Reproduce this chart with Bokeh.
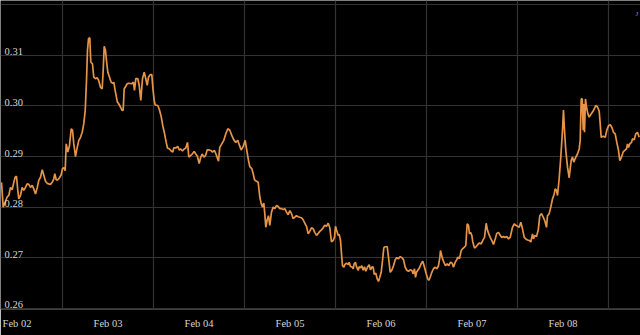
from bokeh.plotting import figure
from bokeh.models import FixedTicker, Grid, Label, Range1d
from bokeh.embed import file_html
from bokeh.resources import INLINE

# hours since Feb 02 00:00
hours = [
    7.91, 8.36, 8.89, 9.42, 9.84, 10.29, 10.73, 11.16, 11.52, 11.87, 12.21, 12.47, 12.92, 13.37, 13.79,
    14.24, 14.69, 15.11, 15.56, 16.01, 16.43, 16.88, 17.33, 17.75, 18.2, 18.65, 19.07, 19.52, 19.96,
    20.39, 20.84, 21.28, 21.71, 21.97, 22.34, 22.76, 23.21, 23.66, 24.0, 24.34, 24.71, 24.98, 25.4,
    25.85, 26.3, 26.64, 26.98, 27.43, 27.88, 28.3, 28.75, 29.2, 29.62, 29.99, 30.33, 30.59, 30.86,
    31.2, 31.46, 31.91, 32.25, 32.7, 33.15, 33.57, 34.02, 34.47, 34.73, 35.0, 35.34, 35.6, 35.95,
    36.4, 36.84, 37.27, 37.53, 37.98, 38.43, 38.85, 39.3, 39.75, 40.01, 40.27, 40.69, 41.06, 41.41,
    42.28, 42.72, 42.99, 43.33, 43.86, 44.23, 44.65, 45.1, 45.55, 45.97, 46.34, 46.68, 47.13, 47.55,
    47.82, 48.18, 48.45, 49.13, 49.58, 50.03, 50.45, 50.9, 51.35, 51.69, 52.22, 52.67, 53.09, 53.35,
    53.88, 54.41, 54.78, 55.2, 55.65, 56.1, 56.52, 56.97, 57.31, 57.76, 58.2, 58.73, 59.16, 59.6,
    60.05, 60.47, 60.84, 61.27, 61.72, 62.16, 62.69, 63.11, 63.56, 64.09, 64.62, 65.14, 65.48, 66.01,
    66.54, 67.07, 67.6, 68.12, 68.65, 69.18, 69.7, 70.23, 70.68, 71.13, 71.66, 72.18, 72.61, 73.06,
    73.4, 73.93, 74.3, 74.64, 75.17,
    75.61, 76.04, 76.4, 76.75, 77.09, 77.35, 77.62, 77.99, 78.33, 78.67, 79.12, 79.57, 79.99, 80.44,
    80.89, 81.31, 81.76, 82.2, 82.63, 83.08, 83.52, 83.95, 84.4, 84.84, 85.27, 85.71, 86.16, 86.58,
    87.03, 87.48, 87.9, 88.35, 88.8, 89.22, 89.67, 90.12, 90.54, 90.99, 91.44, 91.86, 92.31, 92.76,
    93.18, 93.63, 94.07, 94.5, 94.94, 95.39, 95.74, 96.0, 96.26, 96.71, 96.97, 97.32, 97.58, 97.85,
    98.19, 98.45, 98.9, 99.35, 99.61, 99.96, 100.3, 100.67, 100.93, 101.27, 101.54, 101.99, 102.25,
    102.59, 102.94, 103.3, 103.65, 103.99, 104.44, 104.89, 105.23, 105.68, 105.94, 106.21, 106.63,
    107.0, 107.34, 107.68, 108.05, 108.4, 108.74,
    108.92, 109.63, 109.98, 110.43, 110.85, 111.3, 111.74, 112.17, 112.61, 113.06, 113.49, 113.94,
    114.38, 114.81, 115.25, 115.7, 116.12, 116.49, 116.83, 117.1, 117.36, 117.71, 118.15, 118.6,
    119.02, 119.47, 119.92, 120.34, 120.6, 120.97, 121.4, 121.84, 122.29, 122.71, 123.16, 123.51,
    123.69, 124.14, 124.56, 125.01, 125.46, 125.88, 126.33, 126.78, 127.12, 127.57, 127.99, 128.25,
    128.7, 129.15, 129.57, 130.02, 130.37, 130.73, 131.08, 131.34, 131.61, 131.95, 132.21, 132.66,
    133.11, 133.53, 133.98, 134.43, 134.85, 135.3, 135.74, 136.09, 136.43, 136.8, 137.22, 137.67,
    138.12, 138.54, 138.99, 139.44, 139.86, 140.31, 140.75, 141.18, 141.63, 142.07,
    142.68, 143.13, 143.55, 144.0, 144.45, 144.87, 145.32, 145.77, 146.19, 146.64, 147.09, 147.51,
    147.96, 148.22, 148.57, 149.01, 149.46, 149.88, 150.33, 150.78, 151.2, 151.65, 151.91, 152.36,
    152.78, 153.23, 153.68, 153.94, 154.28, 154.55, 154.99, 155.42, 155.87, 156.13, 156.39, 156.74,
    157.19, 157.63, 157.9, 158.16, 158.5, 158.85, 159.38, 159.82, 160.27, 160.54, 160.8, 161.07,
    161.33, 161.49, 161.67, 161.93, 162.2, 162.54, 162.91, 163.33, 163.78, 164.23, 164.65, 165.1,
    165.54, 165.81, 166.07, 166.6, 167.13, 167.55, 168.0, 168.45, 168.87, 169.32, 169.76, 170.19,
    170.64, 170.98, 171.43, 171.87, 172.3, 172.75, 173.01, 173.27, 173.62, 174.07, 174.33, 174.78,
    175.2, 175.65, 176.09,
]

rate = [
    0.2849, 0.2800, 0.2810, 0.2820, 0.2823, 0.2839, 0.2834, 0.2849, 0.2859, 0.2861, 0.2833, 0.2816, 0.2823, 0.2839, 0.2833,
    0.2839, 0.2846, 0.2845, 0.2839, 0.2843, 0.2836, 0.2826, 0.2838, 0.2853, 0.2859, 0.2874, 0.2863, 0.2851, 0.2847,
    0.2846, 0.2845, 0.2849, 0.2856, 0.2866, 0.2854, 0.2854, 0.2858, 0.2864, 0.2876, 0.2878, 0.2872, 0.2925, 0.2909,
    0.2922, 0.2955, 0.2952, 0.2925, 0.2900, 0.2918, 0.2932, 0.2938, 0.2948, 0.2965, 0.2991, 0.3050, 0.3110, 0.3133,
    0.3135, 0.3087, 0.3083, 0.3057, 0.3054, 0.3056, 0.3050, 0.3037, 0.3034, 0.3070, 0.3118, 0.3110, 0.3090, 0.3067,
    0.3057, 0.3047, 0.3045, 0.3047, 0.3027, 0.3009, 0.3004, 0.2998, 0.2991, 0.2992, 0.3034, 0.3039, 0.3044, 0.3045,
    0.3044, 0.3047, 0.3031, 0.3054, 0.3054, 0.3041, 0.3011, 0.3054, 0.3067, 0.3054, 0.3041, 0.3057, 0.3062, 0.3062,
    0.3037, 0.3011, 0.3002, 0.3001, 0.2992, 0.2979, 0.2961, 0.2946, 0.2928, 0.2917, 0.2915, 0.2911, 0.2909, 0.2917,
    0.2917, 0.2920, 0.2913, 0.2915, 0.2911, 0.2915, 0.2917, 0.2928, 0.2899, 0.2902, 0.2905, 0.2910, 0.2905, 0.2900,
    0.2886, 0.2899, 0.2905, 0.2899, 0.2902, 0.2913, 0.2913, 0.2912, 0.2909, 0.2912, 0.2902, 0.2891, 0.2918, 0.2925,
    0.2932, 0.2945, 0.2955, 0.2952, 0.2942, 0.2933, 0.2928, 0.2932, 0.2922, 0.2913, 0.2920, 0.2932, 0.2912, 0.2892,
    0.2880, 0.2876, 0.2866, 0.2854, 0.2851,
    0.2849, 0.2820, 0.2807, 0.2800, 0.2808, 0.2787, 0.2760, 0.2775, 0.2783, 0.2764, 0.2790, 0.2800, 0.2797, 0.2803,
    0.2801, 0.2797, 0.2797, 0.2795, 0.2797, 0.2790, 0.2785, 0.2793, 0.2787, 0.2777, 0.2780, 0.2783, 0.2781, 0.2780,
    0.2779, 0.2775, 0.2768, 0.2762, 0.2747, 0.2752, 0.2759, 0.2757, 0.2750, 0.2744, 0.2748, 0.2752, 0.2755, 0.2759,
    0.2764, 0.2762, 0.2768, 0.2759, 0.2731, 0.2734, 0.2740, 0.2762, 0.2755, 0.2744, 0.2746, 0.2734, 0.2708, 0.2684,
    0.2681, 0.2686, 0.2689, 0.2686, 0.2691, 0.2682, 0.2682, 0.2678, 0.2688, 0.2691, 0.2682, 0.2675, 0.2682,
    0.2680, 0.2684, 0.2675, 0.2682, 0.2673, 0.2681, 0.2686, 0.2676, 0.2682, 0.2681, 0.2667, 0.2669,
    0.2658, 0.2653, 0.2661, 0.2671, 0.2694, 0.2719,
    0.2721, 0.2722, 0.2701, 0.2671, 0.2675, 0.2684, 0.2696, 0.2700, 0.2698, 0.2702, 0.2700, 0.2696,
    0.2681, 0.2675, 0.2673, 0.2676, 0.2675, 0.2668, 0.2678, 0.2661, 0.2671, 0.2675, 0.2680, 0.2688,
    0.2693, 0.2681, 0.2668, 0.2658, 0.2655, 0.2661, 0.2671, 0.2678, 0.2681, 0.2678, 0.2684, 0.2700,
    0.2714, 0.2700, 0.2691, 0.2684, 0.2688, 0.2684, 0.2691, 0.2689, 0.2681, 0.2691, 0.2696, 0.2701,
    0.2698, 0.2714, 0.2718, 0.2721, 0.2724, 0.2767, 0.2764, 0.2747, 0.2750, 0.2744, 0.2731, 0.2719,
    0.2722, 0.2726, 0.2729, 0.2727, 0.2734, 0.2740, 0.2768, 0.2754, 0.2747, 0.2740, 0.2734, 0.2726,
    0.2737, 0.2748, 0.2750, 0.2744, 0.2740, 0.2742, 0.2740, 0.2742, 0.2737, 0.2740,
    0.2760, 0.2767, 0.2764, 0.2762, 0.2760, 0.2770, 0.2757, 0.2740, 0.2737, 0.2735, 0.2734, 0.2731,
    0.2747, 0.2737, 0.2744, 0.2742, 0.2754, 0.2783, 0.2787, 0.2780, 0.2773, 0.2760, 0.2783, 0.2787,
    0.2800, 0.2816, 0.2826, 0.2836, 0.2833, 0.2823, 0.2856, 0.2899, 0.2952, 0.2992, 0.2952, 0.2912,
    0.2879, 0.2858, 0.2876, 0.2892, 0.2899, 0.2889, 0.2899, 0.2905, 0.2915, 0.2932, 0.3014, 0.3014,
    0.2952, 0.3004, 0.2948, 0.3014, 0.2998, 0.2985, 0.2978, 0.2983, 0.2988, 0.2994, 0.3001, 0.2998,
    0.2990, 0.2965, 0.2938, 0.2940, 0.2938, 0.2952, 0.2961, 0.2963, 0.2958, 0.2948, 0.2945, 0.2928,
    0.2912, 0.2892, 0.2899, 0.2909, 0.2912, 0.2915, 0.2925, 0.2918, 0.2925, 0.2928, 0.2935, 0.2933,
    0.2945, 0.2948, 0.2938,
]

day_labels = ["Feb 02", "Feb 03", "Feb 04", "Feb 05", "Feb 06", "Feb 07", "Feb 08"]
label_hours = [12 + 24 * i for i in range(len(day_labels))]
grid_hours = [24 + 24 * i for i in range(len(day_labels))]
y_ticks = [0.26, 0.27, 0.28, 0.29, 0.30, 0.31, 0.32]
y_labels = ["0.26", "0.27", "0.28", "0.29", "0.30", "0.31"]

FONT = "Liberation Serif"
TXT = "#d6d6d6"
GRID = "#333333"

p = figure(width=640, height=335, output_backend="svg", toolbar_location=None,
           x_range=Range1d(7.65, 176.44), y_range=Range1d(0.25974, 0.32087),
           y_axis_location=None, min_border_left=0, min_border_right=0,
           min_border_top=0, min_border_bottom=26)
p.background_fill_color = "#000000"
p.border_fill_color = "#000000"
p.outline_line_color = None
p.grid.visible = False

p.add_layout(Grid(dimension=0, ticker=FixedTicker(ticks=grid_hours),
                  grid_line_color=GRID, grid_line_width=1.2))
p.add_layout(Grid(dimension=1, ticker=FixedTicker(ticks=y_ticks),
                  grid_line_color=GRID, grid_line_width=1.2))

ax = p.xaxis[0]
ax.ticker = FixedTicker(ticks=label_hours)
ax.major_label_overrides = {h: lab for h, lab in zip(label_hours, day_labels)}
ax.axis_line_color = None
ax.major_tick_line_color = None
ax.minor_tick_line_color = None
ax.major_tick_out = 0
ax.major_tick_in = 0
ax.major_label_standoff = 8
ax.major_label_text_font = FONT
ax.major_label_text_font_size = "10.5px"
ax.major_label_text_color = TXT

for val, lab in zip(y_ticks, y_labels):
    p.add_layout(Label(x=4, y=val, x_units="screen", y_units="data", text=lab,
                       text_baseline="bottom", text_align="left", text_font=FONT,
                       text_font_size="10.5px", text_color=TXT))

p.add_layout(Label(x=635, y=292, x_units="screen", y_units="screen", text="J",
                   text_baseline="bottom", text_align="left", text_font=FONT,
                   text_font_size="7px", text_color="#999999"))

p.line(hours, rate, line_color="#E59448", line_width=1.7)

open("out.html", "w").write(file_html(p, INLINE))
